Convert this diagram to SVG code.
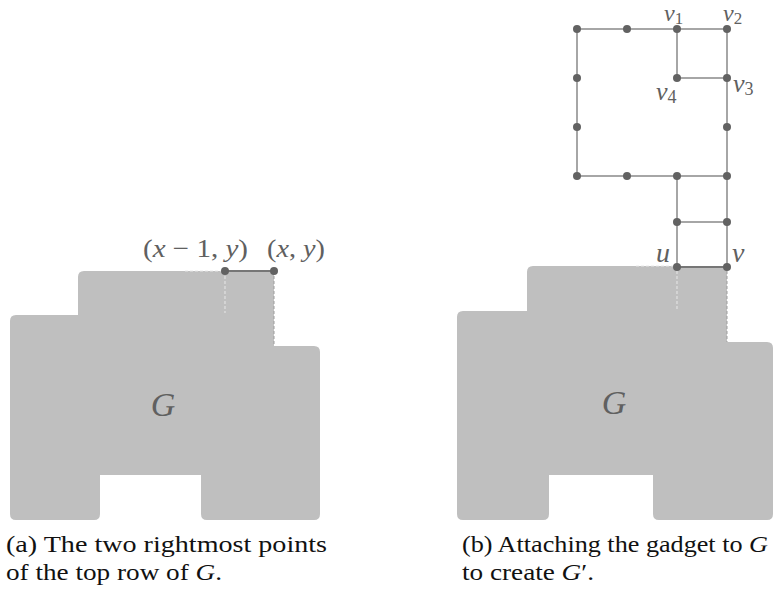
<svg xmlns="http://www.w3.org/2000/svg" width="774" height="597" viewBox="0 0 774 597">
<style>
.blob{fill:#bfbfbf;stroke:none}
.edge{stroke:#a6a6a6;stroke-width:2;fill:none}
.edark{stroke:#767676;stroke-width:2;fill:none}
.dashw{stroke:#e8e8e8;stroke-width:1;stroke-dasharray:3,2;fill:none}
.dashd{stroke:#9c9c9c;stroke-width:1;stroke-dasharray:3,2;fill:none}
.node{fill:#626262}
.lbl{font-family:"Liberation Serif",serif;fill:#606060}
.it{font-style:italic}
.cap{font-family:"Liberation Serif",serif;fill:#111;font-size:24px}
</style>
<g id="blob-a">
<path class="blob" d="M84,271 H274 V346 H314 Q320,346 320,352 V514 Q320,520 314,520 H207 Q201,520 201,514 V475 H100 V514 Q100,520 94,520 H16 Q10,520 10,514 V321 Q10,315 16,315 H78 V277 Q78,271 84,271 Z"/>
<text class="lbl it" x="163" y="416" font-size="34" text-anchor="middle">G</text>
</g>
<g id="blob-b">
<path class="blob" d="M533,266 H727 V342 H767 Q773,342 773,348 V514 Q773,520 767,520 H659 Q653,520 653,514 V475 H549 V514 Q549,520 543,520 H463 Q457,520 457,514 V317 Q457,311 463,311 H527 V272 Q527,266 533,266 Z"/>
<text class="lbl it" x="614" y="414" font-size="34" text-anchor="middle">G</text>
</g>
<g id="connectors">
<line class="dashw" x1="185" y1="271" x2="225" y2="271"/>
<line class="dashw" x1="225" y1="271" x2="225" y2="313"/>
<line class="dashd" x1="274" y1="271" x2="274" y2="346"/>
<line class="edark" x1="225" y1="271" x2="274" y2="271"/>
<line class="dashw" x1="636" y1="266" x2="677" y2="266"/>
<line class="dashw" x1="677" y1="266" x2="677" y2="310"/>
<line class="dashd" x1="727" y1="266" x2="727" y2="342"/>
<path class="edge" d="M577,29 H727 V267 M577,29 V176 H727 M677,29 V78 H727 M677,176 V267 M677,222 H727"/>
<line class="edark" x1="677" y1="267" x2="727" y2="267"/>
</g>
<g id="node-xm1">
<circle class="node" cx="225" cy="271" r="4"/>
<text class="lbl" x="143" y="257" font-size="26" textLength="105" lengthAdjust="spacingAndGlyphs">(<tspan class="it">x</tspan> − 1, <tspan class="it">y</tspan>)</text>
</g>
<g id="node-x">
<circle class="node" cx="274" cy="271" r="4"/>
<text class="lbl" x="267" y="257" font-size="26" textLength="58" lengthAdjust="spacingAndGlyphs">(<tspan class="it">x</tspan>, <tspan class="it">y</tspan>)</text>
</g>
<g id="gadget-nodes">
<circle class="node" cx="577" cy="29" r="4"/>
<circle class="node" cx="627" cy="29" r="4"/>
<circle class="node" cx="577" cy="78" r="4"/>
<circle class="node" cx="577" cy="127" r="4"/>
<circle class="node" cx="577" cy="176" r="4"/>
<circle class="node" cx="627" cy="176" r="4"/>
<circle class="node" cx="677" cy="176" r="4"/>
<circle class="node" cx="727" cy="176" r="4"/>
<circle class="node" cx="727" cy="127" r="4"/>
<circle class="node" cx="677" cy="222" r="4"/>
<circle class="node" cx="727" cy="222" r="4"/>
</g>
<g id="node-v1"><circle class="node" cx="677" cy="29" r="4"/><text class="lbl" x="664" y="21" font-size="24"><tspan class="it">v</tspan><tspan font-size="17" dy="3">1</tspan></text></g>
<g id="node-v2"><circle class="node" cx="727" cy="29" r="4"/><text class="lbl" x="723" y="21" font-size="24"><tspan class="it">v</tspan><tspan font-size="17" dy="3">2</tspan></text></g>
<g id="node-v3"><circle class="node" cx="727" cy="78" r="4"/><text class="lbl" x="733" y="92" font-size="26"><tspan class="it">v</tspan><tspan font-size="18" dy="3">3</tspan></text></g>
<g id="node-v4"><circle class="node" cx="677" cy="78" r="4"/><text class="lbl" x="656" y="100" font-size="26"><tspan class="it">v</tspan><tspan font-size="18" dy="3">4</tspan></text></g>
<g id="node-u"><circle class="node" cx="677" cy="267" r="4"/><text class="lbl it" x="656" y="262" font-size="28">u</text></g>
<g id="node-v"><circle class="node" cx="727" cy="267" r="4"/><text class="lbl it" x="732" y="262" font-size="28">v</text></g>
<g id="captions">
<text class="cap" x="6" y="552" textLength="321" lengthAdjust="spacingAndGlyphs">(a) The two rightmost points</text>
<text class="cap" x="6" y="580" textLength="216" lengthAdjust="spacingAndGlyphs">of the top row of <tspan font-style="italic">G</tspan>.</text>
<text class="cap" x="462" y="552" textLength="306" lengthAdjust="spacingAndGlyphs">(b) Attaching the gadget to <tspan font-style="italic">G</tspan></text>
<text class="cap" x="462" y="580" textLength="132" lengthAdjust="spacingAndGlyphs">to create <tspan font-style="italic">G</tspan>′.</text>
</g>
</svg>
